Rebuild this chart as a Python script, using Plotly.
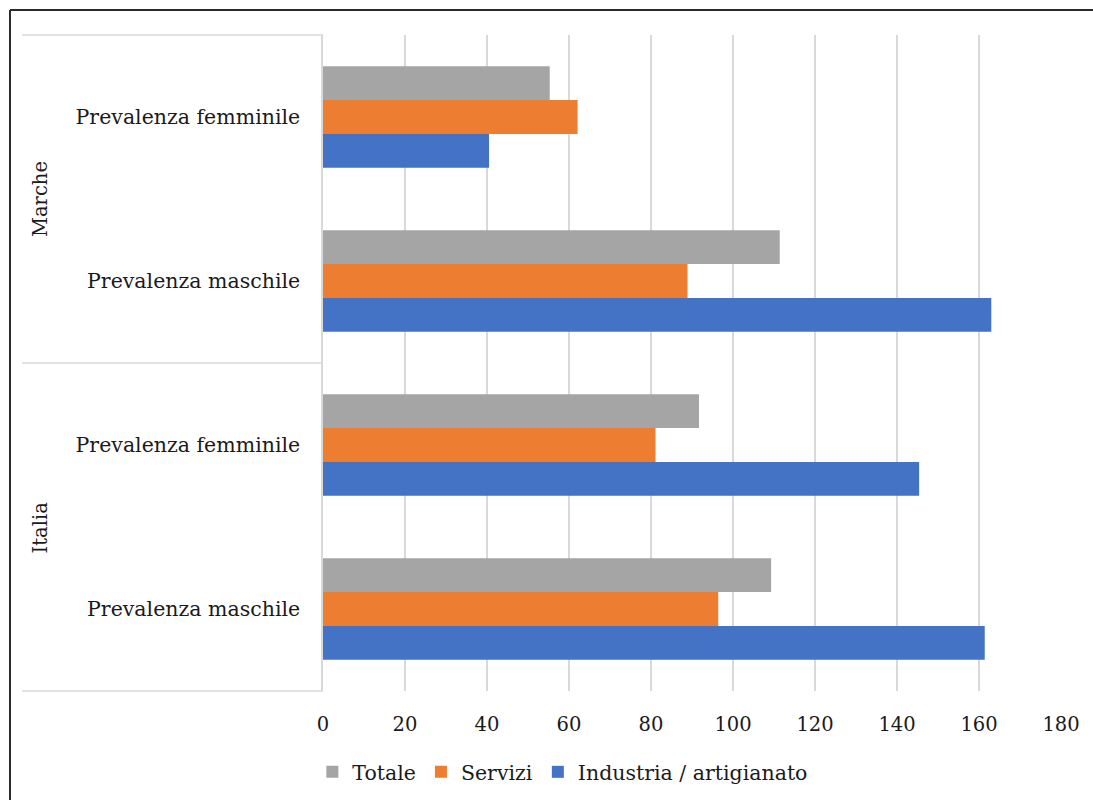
import plotly.graph_objects as go

# Category keys (bottom to top) and their displayed labels
regions = ["Italia", "Italia", "Marche", "Marche"]
genders = ["Prevalenza maschile", "Prevalenza femminile",
           "Prevalenza maschile", "Prevalenza femminile"]

# Series values in the same order as the categories
industria = [161.4, 145.4, 163.0, 40.5]
servizi = [96.4, 81.1, 88.9, 62.1]
totale = [109.3, 91.7, 111.4, 55.3]

x_ticks = [0, 20, 40, 60, 80, 100, 120, 140, 160, 180]

series = [
    ("Industria / artigianato", industria, "#4472C4"),
    ("Servizi", servizi, "#ED7D31"),
    ("Totale", totale, "#A5A5A5"),
]

cat_keys = [f"{r}|{g}" for r, g in zip(regions, genders)]

FONT = "DejaVu Serif"
TXT = "#1A1A1A"
W, H = 1093, 800
ML, MR, MT, MB = 323, 32, 35, 109
PW = W - ML - MR
PH = H - MT - MB


def px_x(px):
    return (px - ML) / PW


def px_y(py):
    return (H - MB - py) / PH


fig = go.Figure()
for name, vals, color in series:
    fig.add_trace(go.Bar(
        y=cat_keys, x=vals, name=name, orientation="h",
        marker=dict(color=color, line=dict(width=0)),
    ))

shapes = []
# group dividers to the left of the plot area
for yp in (0, 0.5, 1):
    shapes.append(dict(type="line", xref="paper", yref="paper",
                       x0=px_x(22), x1=0, y0=yp, y1=yp,
                       line=dict(color="#D9D9D9", width=1.5), layer="below"))
# outer frame
shapes.append(dict(type="line", xref="paper", yref="paper",
                   x0=px_x(10), x1=px_x(1100), y0=px_y(10), y1=px_y(10),
                   line=dict(color="#2B2B2B", width=2)))
shapes.append(dict(type="line", xref="paper", yref="paper",
                   x0=px_x(10), x1=px_x(10), y0=px_y(10), y1=px_y(810),
                   line=dict(color="#2B2B2B", width=2)))

annotations = []
for label, cy in (("Marche", 199), ("Italia", 527.5)):
    annotations.append(dict(text=label, xref="paper", yref="paper",
                            x=px_x(40), y=px_y(cy), textangle=-90,
                            showarrow=False, xanchor="center", yanchor="middle",
                            font=dict(family=FONT, size=19.5, color=TXT)))

fig.update_layout(
    width=W, height=H,
    margin=dict(l=ML, r=MR, t=MT, b=MB, autoexpand=False),
    paper_bgcolor="white", plot_bgcolor="white",
    barmode="group", bargap=0.38, bargroupgap=0,
    font=dict(family=FONT, size=20, color=TXT),
    shapes=shapes, annotations=annotations,
    legend=dict(orientation="h", traceorder="reversed",
                x=0.325, xanchor="center", y=px_y(772), yanchor="middle",
                font=dict(family=FONT, size=20.5, color=TXT),
                itemclick=False),
    xaxis=dict(range=[0, 180], tickvals=x_ticks, showgrid=True,
               gridcolor="#D9D9D9", gridwidth=1.5, zeroline=False,
               showline=False, ticks="", ticklabelstandoff=19,
               tickfont=dict(family=FONT, size=19.5, color=TXT)),
    yaxis=dict(type="category", categoryorder="array", categoryarray=cat_keys,
               tickmode="array", tickvals=cat_keys, ticktext=genders,
               showgrid=False, zeroline=False, showline=True,
               linecolor="#D9D9D9", linewidth=1.5, ticks="",
               ticklabelstandoff=17,
               tickfont=dict(family=FONT, size=20.5, color=TXT)),
)

fig.write_html("out.html")
